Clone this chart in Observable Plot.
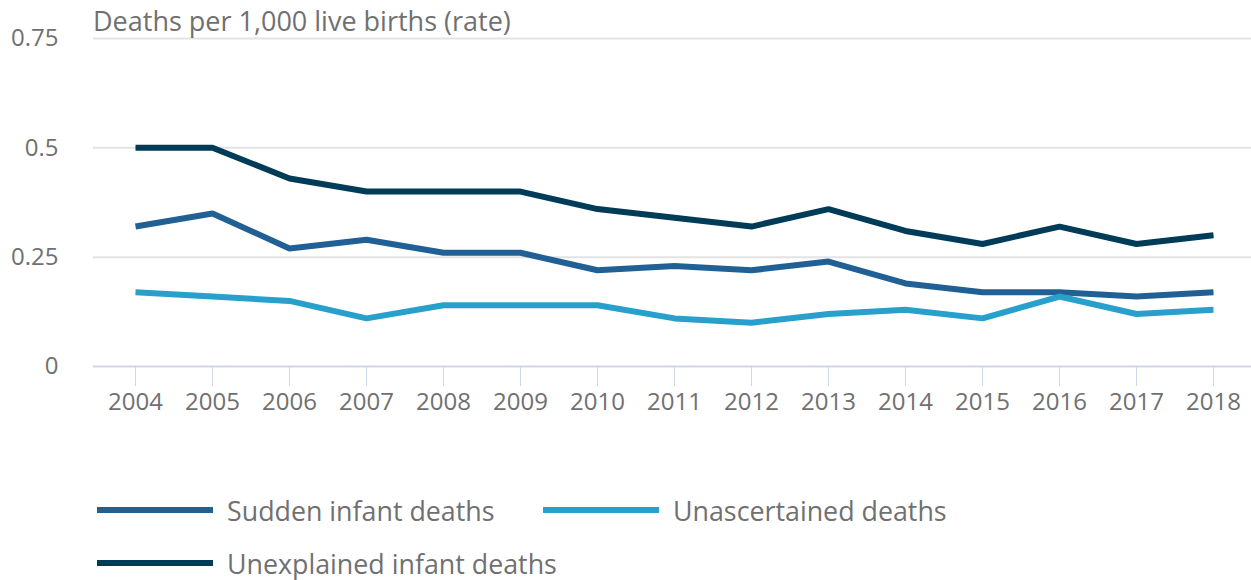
<!DOCTYPE html>
<html>
<head>
<meta charset="utf-8">
<script src="https://cdn.jsdelivr.net/npm/d3@7"></script>
<script src="https://cdn.jsdelivr.net/npm/@observablehq/plot@0.6"></script>
<style>
  html, body { margin: 0; padding: 0; background: #fff; overflow: hidden; }
  #wrap { position: relative; width: 1251px; height: 580px; overflow: hidden; font-family: "Open Sans", sans-serif; color: #707070; }
  #title { position: absolute; left: 93px; top: 2px; font-size: 27px; white-space: nowrap; }
  .leg { position: absolute; display: flex; align-items: center; font-size: 26.8px; white-space: nowrap; }
  .sw { width: 116px; height: 6px; margin-right: 14px; }
</style>
</head>
<body>
<div id="wrap">
  <div id="chart"></div>
  <div id="title">Deaths per 1,000 live births (rate)</div>
  <div id="legend"></div>
</div>
<script>
const years = [2004, 2005, 2006, 2007, 2008, 2009, 2010, 2011, 2012, 2013, 2014, 2015, 2016, 2017, 2018];
const sudden = [0.32, 0.35, 0.27, 0.29, 0.26, 0.26, 0.22, 0.23, 0.22, 0.24, 0.19, 0.17, 0.17, 0.16, 0.17];
const unascertained = [0.17, 0.16, 0.15, 0.11, 0.14, 0.14, 0.14, 0.11, 0.10, 0.12, 0.13, 0.11, 0.16, 0.12, 0.13];
const unexplained = [0.50, 0.50, 0.43, 0.40, 0.40, 0.40, 0.36, 0.34, 0.32, 0.36, 0.31, 0.28, 0.32, 0.28, 0.30];
const seriesNames = ["Sudden infant deaths", "Unascertained deaths", "Unexplained infant deaths"];
const seriesColors = ["#206095", "#27a0cc", "#003c57"];
const yTicks = [0, 0.25, 0.5, 0.75];
const yTickLabels = ["0", "0.25", "0.5", "0.75"];

const seriesValues = [sudden, unascertained, unexplained];
const data = seriesNames.flatMap((name, i) =>
  years.map((year, j) => ({ series: name, year, value: seriesValues[i][j] }))
);

const chart = Plot.plot({
  width: 1251,
  height: 440,
  marginLeft: 93,
  marginRight: -4,
  marginTop: 38,
  marginBottom: 74,
  x: { type: "point", domain: years, padding: 0.5, label: null },
  y: { domain: [0, 0.75], label: null },
  color: { domain: seriesNames, range: seriesColors },
  style: { fontFamily: "Open Sans, sans-serif", fontSize: "24px", color: "#707070", background: "white", overflow: "visible" },
  marks: [
    Plot.gridY(yTicks.filter(d => d > 0), { stroke: "#e3e3e3", strokeOpacity: 1, strokeWidth: 2 }),
    Plot.axisY({ ticks: yTicks, tickSize: 0, tickPadding: 35, fontSize: 24, label: null,
      tickFormat: d => yTickLabels[yTicks.indexOf(d)] }),
    Plot.ruleY([0], { stroke: "#cfd6e8", strokeWidth: 2 }),
    Plot.axisX({ tickSize: 20, tickPadding: 6, stroke: "#cfd6e8", strokeOpacity: 1, fontSize: 24, label: null, tickFormat: d => String(d) }),
    Plot.line(data, { x: "year", y: "value", z: "series", stroke: "series", strokeWidth: 6, strokeLinecap: "butt", strokeLinejoin: "miter" })
  ]
});
document.getElementById("chart").appendChild(chart);

const legendPos = [[97, 510], [543, 510], [97, 563]];
const legend = document.getElementById("legend");
seriesNames.forEach((name, i) => {
  const item = document.createElement("div");
  item.className = "leg";
  item.style.left = legendPos[i][0] + "px";
  item.style.top = (legendPos[i][1] - 18) + "px";
  item.style.height = "36px";
  const sw = document.createElement("div");
  sw.className = "sw";
  sw.style.background = seriesColors[i];
  const lab = document.createElement("span");
  lab.textContent = name;
  item.appendChild(sw);
  item.appendChild(lab);
  legend.appendChild(item);
});
</script>
</body>
</html>
